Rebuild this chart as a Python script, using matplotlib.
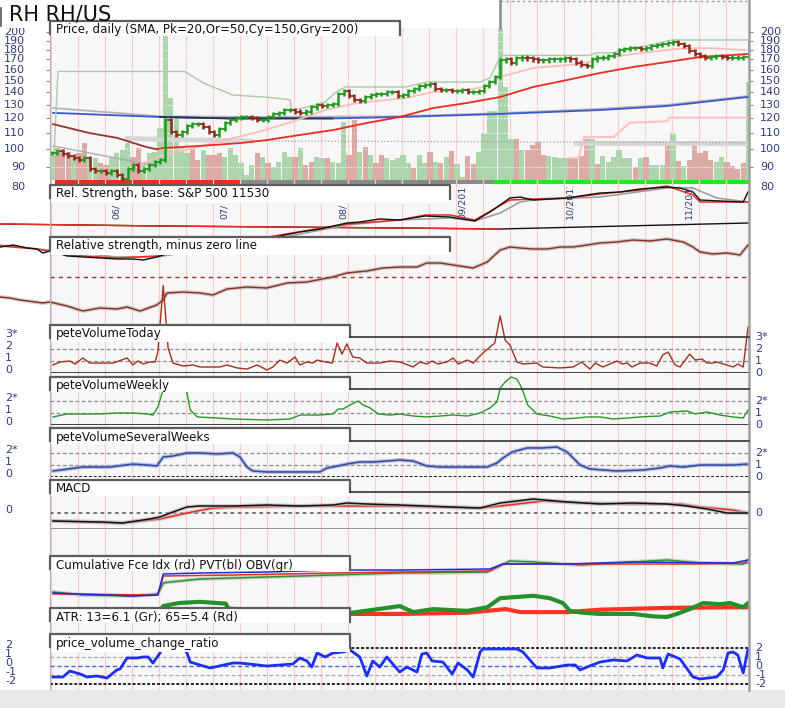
import numpy as np
import matplotlib.pyplot as plt
from matplotlib.patches import Rectangle
from matplotlib.ticker import MultipleLocator, NullLocator, FixedLocator
from matplotlib.transforms import blended_transform_factory, offset_copy, Bbox

# ========== [DATA] ==========
ticker = "RH RH/US"

# daily closes, one per trading day
close = [98, 99, 97, 96, 95, 94, 95, 89, 88, 88,
         87, 88, 86, 84, 89, 91, 88, 89, 91, 93,
         94, 119, 111, 109, 111, 115, 116, 116, 114, 111,
         109, 113, 117, 119, 120, 121, 121, 120, 119, 119,
         121, 123, 124, 126, 126, 125, 124, 125, 128, 130,
         129, 130, 131, 139, 141, 137, 134, 133, 136, 138,
         139, 139, 140, 140, 137, 138, 141, 143, 145, 146,
         147, 143, 142, 142, 141, 141, 142, 140, 140, 141,
         145, 149, 153, 169, 170, 167, 171, 172, 171, 170,
         169, 169, 170, 170, 170, 171, 170, 167, 165, 164,
         170, 172, 172, 174, 176, 180, 181, 182, 182, 181,
         182, 184, 185, 186, 187, 189, 186, 184, 179, 176,
         174, 172, 173, 174, 173, 172, 172, 172, 173, 189]

# daily volume (scaled units)
volume = [25, 32, 31, 28, 23, 27, 37, 22, 22, 17,
          15, 23, 27, 30, 37, 23, 32, 17, 27, 28,
          52, 420, 82, 63, 33, 27, 32, 20, 30, 25,
          25, 27, 23, 32, 25, 17, 5, 15, 27, 23,
          17, 13, 18, 28, 23, 23, 32, 15, 18, 23,
          22, 22, 18, 17, 58, 25, 60, 28, 33, 25,
          17, 25, 22, 20, 22, 25, 17, 12, 25, 17,
          28, 18, 17, 23, 29, 16, 3, 24, 16, 28,
          47, 69, 69, 151, 93, 41, 41, 30, 30, 35,
          38, 25, 24, 23, 22, 22, 22, 23, 24, 41,
          41, 16, 24, 18, 23, 30, 22, 22, 13, 22,
          23, 15, 15, 15, 38, 47, 19, 14, 20, 39,
          27, 29, 20, 18, 23, 18, 14, 11, 17, 98]
# g = up-volume day, r = down-volume day
volume_dir = ("grrrgrrggr" "rggggrrggg" "ggggggrrgr" "rrggggggrg" "rggggrgrrg"
              "grgggrrgrg" "rrgggggrgg" "rgrgrggrrg" "ggggggrgrr" "rrggggrrrr"
              "grggggggrg" "rgggrgrgrr" "rrrggrrrrg")

month_labels = ["06/2011", "07/2011", "08/2011", "09/2011", "10/2011", "11/2011"]
month_days = [12, 32, 54, 76, 96, 118]

trend_spans = [(0.5, 34.8), (34.8, 81.7), (81.7, 129.1)]
trend_state = ["down", "flat", "up"]

price_ticks = [200, 190, 180, 170, 160, 150, 140, 130, 120, 110, 100, 90, 80]

# moving averages / envelopes in price panel: (day, price)
sma20 = [(16, 91), (19.6, 95.5), (32, 105.6), (38.1, 110.7), (44.4, 117.5), (50.6, 126.1),
         (56.7, 131.5), (65.4, 135.4), (70.6, 140.3), (76.9, 142), (79.8, 144.5), (83, 153.3),
         (89.1, 161.7), (97.8, 165.5), (103, 172.5), (109.3, 176.6), (115.4, 180.9),
         (121.5, 181.9), (128.3, 179.8)]
sma50_falling = [(0.2, 116), (7, 110), (12, 107), (17.5, 101.3), (19.4, 100)]
sma50 = [(19.4, 100), (20.6, 100.7), (27.4, 102), (34.8, 103.7), (39.8, 105.6), (45.9, 108.8),
         (52, 112), (58.3, 116.8), (64.4, 121), (70.6, 127.6), (76.9, 131.5), (83, 136.2),
         (89.1, 144.5), (95.4, 150.6), (101.5, 157), (107.6, 162.6), (113.9, 167.5),
         (120, 172.5), (128.9, 175.6)]
sma150 = [(0.2, 124), (20, 121), (33, 120), (52, 120), (64.4, 121), (83, 123.2),
          (101.5, 126.1), (113.9, 129.1), (128.9, 136.2)]
sma200 = [(0.2, 127.6), (20, 121.5), (40, 121), (64, 121.5), (83, 123.8), (101.5, 127),
          (113.9, 130), (128.9, 137)]
upper_env = [(0.4, 99), (1.1, 158.4), (24.6, 158.4), (28, 148), (33.5, 137.8), (39.8, 136),
             (44.1, 134), (44.4, 126), (47.4, 128.4), (50.6, 132.3), (52.4, 139.5),
             (54.3, 144.5), (65.4, 144.5), (69.6, 148.8), (79.3, 148.8), (81.1, 152.4),
             (83, 172.5), (83.5, 174.2), (99.6, 174.2), (100.6, 176.6), (104, 177),
             (106, 181), (110, 184), (114.8, 190.8), (129, 190.8)]
lower_env = [(0.2, 102), (10, 96), (19.4, 90.5)]
floor_band_a = [(13.9, 106.5), (37, 105)]
floor_line = [(37, 105), (129, 104)]
floor_band_b = [(97, 103.6), (129, 103.6)]
trail_stop = [(96, 95), (97.5, 95), (98.5, 107.5), (104, 107.5), (107, 117), (114, 118),
              (114.2, 120.5), (129, 120.5)]

# relative strength vs S&P 500
rs_line = [(-9.6, -0.24), (-7.2, -0.20), (-4.6, -0.26), (-2.8, -0.28), (-1.7, -0.36), (-0.4, -0.32),
           (2.8, -0.42), (8.9, -0.46), (12, -0.48), (15, -0.48), (16.9, -0.50), (19.4, -0.44),
           (20.6, -0.40), (21.1, -0.20), (31.1, -0.16), (38.5, -0.10), (42.2, -0.02), (45.9, 0.06),
           (49.6, 0.12), (54.6, 0.24), (57, 0.26), (60.7, 0.32), (64.4, 0.30), (69.1, 0.38),
           (73.7, 0.36), (78.3, 0.28), (81.1, 0.46), (84.8, 0.74), (86.7, 0.76), (89.1, 0.70),
           (92.2, 0.72), (95.4, 0.74), (97.8, 0.78), (101.5, 0.84), (105.2, 0.86), (108.9, 0.92),
           (113.9, 0.96), (116.3, 0.94), (118.7, 0.86), (120, 0.70), (123.7, 0.68), (128, 0.66),
           (128.9, 0.86)]
rs_red = [(-9.6, -0.22), (-2.8, -0.28), (2.8, -0.40), (12, -0.46), (19.4, -0.42), (42.2, 0.0),
          (54.6, 0.22), (64.4, 0.30), (69.1, 0.40), (73.7, 0.40), (78.3, 0.30), (84.8, 0.70),
          (89.1, 0.72), (95.4, 0.74), (101.5, 0.82), (108.9, 0.90), (113.9, 0.98), (118.7, 0.80),
          (120, 0.66), (128.9, 0.66)]
rs_avg = [(-9.6, -0.20), (12, -0.44), (19.4, -0.44), (42.2, -0.06), (54.6, 0.20), (64.4, 0.30),
          (73.7, 0.34), (78.3, 0.28), (83, 0.44), (86.7, 0.66), (89.1, 0.70), (101.5, 0.76),
          (113.9, 0.94), (118.7, 0.94), (123.1, 0.74), (128.9, 0.66)]
rs_long = [(-9.6, 0.22), (20, 0.18), (64.4, 0.14), (83, 0.12), (129, 0.24)]

rs_minus_zero = [(-9.6, -1.0), (-7.8, -1.05), (-5.9, -1.15), (-1.7, -1.3), (-0.4, -1.25), (2.8, -1.45),
                 (5.7, -1.7), (8.9, -1.55), (12, -1.6), (13.9, -1.5), (16.3, -1.7), (19.4, -1.4),
                 (20.6, -1.15), (21.3, -0.8), (24.3, -0.75), (27.4, -0.8), (29.8, -0.9), (32.4, -0.6),
                 (36.1, -0.5), (39.8, -0.55), (43.5, -0.3), (47.2, -0.25), (49.1, -0.15), (52, 0.0),
                 (54.6, 0.2), (58.3, 0.3), (61.3, 0.45), (64.4, 0.5), (67.6, 0.5), (69.4, 0.7),
                 (71.9, 0.7), (74.3, 0.6), (78, 0.45), (80.6, 0.75), (83, 1.35), (84.8, 1.5),
                 (86.7, 1.45), (89.1, 1.4), (91.7, 1.4), (94.1, 1.5), (96.5, 1.5), (99.1, 1.6),
                 (101.5, 1.7), (104.6, 1.75), (107.6, 1.85), (110.7, 1.8), (113.9, 1.9),
                 (116.9, 1.75), (118.7, 1.5), (120, 1.25), (122.4, 1.15), (125, 1.2), (127.4, 1.1),
                 (128.9, 1.6)]

vol_today = [(0.2, 0.67), (1.5, 0.92), (3.3, 1.0), (4.3, 0.75), (5.7, 1.25), (7, 0.83), (8.9, 0.83),
             (11.3, 0.83), (13.9, 1.25), (15, 0.67), (15.9, 1.0), (16.9, 0.75), (18.1, 0.92),
             (19.1, 0.92), (19.6, 1.75), (20.6, 7.3), (21.5, 2.1), (22.4, 0.83), (24.3, 0.58),
             (26.1, 0.67), (27.4, 0.5), (29.3, 0.5), (31.1, 0.5), (32.4, 0.67), (34.3, 0.42),
             (36.1, 0.33), (38, 0.67), (39.8, 0.25), (40.9, 0.5), (42.2, 1.08), (43.5, 0.83),
             (45, 1.33), (45.9, 0.67), (47.2, 0.92), (48.3, 0.83), (49.1, 1.08), (50.6, 0.92),
             (51.9, 0.83), (52.8, 2.5), (53.7, 1.58), (54.6, 2.42), (55.7, 1.33), (57, 1.25),
             (58.3, 0.83), (60.7, 0.83), (62.6, 1.0), (64.4, 0.92), (66.9, 0.5), (68.1, 0.92),
             (69.4, 0.75), (70.4, 1.0), (71.5, 0.75), (73.1, 0.92), (74.3, 1.25), (75.2, 0.75),
             (76.9, 1.08), (78, 0.83), (79.8, 1.67), (82, 2.5), (83, 4.75), (83.9, 2.75),
             (84.8, 2.33), (86.1, 0.92), (87.2, 0.75), (89.8, 0.83), (90.9, 0.5), (94.1, 0.42),
             (96.5, 0.5), (98.1, 0.92), (99.6, 0.33), (100.6, 0.83), (102, 0.5), (104.6, 1.0),
             (105.6, 0.75), (106.5, 0.83), (107.4, 0.5), (108.9, 0.83), (110.7, 0.83), (112, 0.58),
             (113.1, 1.5), (114.1, 1.75), (115.4, 0.67), (116.3, 0.5), (118.1, 1.58), (119.1, 1.08),
             (120.4, 1.17), (121.3, 0.83), (122.4, 0.83), (123.1, 0.92), (125.6, 0.58), (126.1, 0.5),
             (127, 0.75), (128, 0.5), (128.9, 3.83)]

vol_weekly = [(0.2, 0.67), (2.8, 0.92), (5.7, 0.92), (8.9, 0.92), (12, 1.0), (15, 1.0), (17.6, 0.92),
              (18.7, 0.83), (19.6, 1.5), (20.4, 2.67), (20.9, 3.75), (22.8, 3.9), (24.6, 3.75),
              (25, 2.67), (25.6, 1.25), (26.9, 0.67), (30.6, 0.58), (33.5, 0.5), (39.8, 0.42),
              (44.1, 0.5), (45.9, 0.83), (49.6, 0.83), (52, 0.92), (53, 1.33), (53.9, 1.33),
              (55.2, 1.67), (56.7, 2.0), (57.6, 1.67), (58.9, 1.42), (60.4, 0.92), (62.6, 0.83),
              (64.4, 0.92), (66.9, 0.75), (69.4, 0.67), (71.9, 0.75), (74.3, 0.83), (76.9, 0.75),
              (79.3, 1.0), (81.1, 1.42), (82.4, 1.92), (83, 3.08), (83.9, 3.58), (85, 4.0),
              (86.1, 3.83), (87, 3.08), (88.1, 1.67), (89.8, 0.92), (92.2, 0.75), (94.6, 0.5),
              (97.2, 0.58), (99.1, 0.67), (101.5, 0.67), (103.9, 0.5), (106.5, 0.58), (108.9, 0.67),
              (112.6, 0.75), (114.4, 1.08), (117.6, 1.17), (119.1, 0.92), (121.3, 1.08),
              (123.7, 0.83), (126.1, 0.67), (128, 0.58), (128.9, 1.25)]

vol_several = [(0.2, 0.5), (5.7, 0.83), (10.7, 0.83), (15, 1.08), (17.6, 1.0), (19.4, 0.92),
               (20.6, 1.67), (22.4, 1.75), (25, 2.0), (27.4, 2.0), (30.6, 1.92), (33.5, 2.0),
               (34.8, 1.67), (36.1, 0.83), (37.2, 0.5), (39.8, 0.42), (45.9, 0.42), (49.6, 0.42),
               (50.9, 0.75), (52, 0.83), (54.6, 1.08), (57, 1.25), (59.4, 1.25), (62, 1.33),
               (64.4, 1.42), (66.9, 1.33), (69.4, 0.92), (71.9, 0.83), (76.9, 0.83), (80.6, 0.83),
               (82.4, 1.17), (83.5, 1.58), (85.2, 2.08), (88, 2.42), (90.9, 2.42), (93.5, 2.5),
               (95.4, 2.08), (97.8, 1.0), (99.6, 0.67), (104.6, 0.5), (109.4, 0.58), (112.6, 0.75),
               (114.4, 0.92), (116.9, 0.83), (120, 1.0), (123.1, 1.0), (126.1, 1.0), (128.7, 1.08)]

macd_line = [(0.2, -2.0), (8.9, -2.25), (13.1, -2.5), (18.1, -1.5), (20, -1.0), (22.4, 0.25),
             (25, 1.5), (27.4, 1.75), (33.5, 1.75), (39.8, 2.0), (45.9, 1.75), (52, 2.0),
             (54.6, 2.5), (58.3, 2.25), (64.4, 2.0), (73.7, 1.5), (79.3, 1.25), (83, 2.5),
             (89.1, 3.5), (95.4, 2.75), (101.5, 2.25), (107.6, 2.5), (113.9, 2.25), (117.6, 1.75),
             (121.3, 1.0), (125, 0.0), (128.9, 0.0)]
macd_signal = [(0.2, -2.0), (13.1, -2.5), (20, -1.5), (25, 0.0), (29.8, 1.25), (34.8, 1.5),
               (45.9, 1.75), (64.4, 1.75), (79.3, 1.25), (83, 1.75), (90.9, 3.0), (99.1, 2.5),
               (107.6, 2.25), (116.3, 2.25), (120, 1.5), (126.1, 0.75), (128.9, 0.0)]

obv = [(0.2, 0.8), (5.7, 0.5), (15, 0.4), (19.6, 0.6), (20.6, 1.7), (21.9, 1.8), (27.4, 2.1),
       (33.5, 2.2), (45.9, 2.4), (58.3, 2.6), (64.4, 2.7), (80.6, 2.8), (84.8, 3.9), (89.1, 3.8),
       (97.8, 3.5), (107.6, 3.8), (113.9, 4.0), (120, 3.7), (128, 3.6), (128.9, 4.0)]
pvt = [(0.2, 0.7), (15, 0.4), (19.6, 0.5), (20.6, 2.6), (27.4, 2.7), (39.8, 2.8), (52, 3.0),
       (64.4, 3.0), (81.1, 3.1), (83.5, 3.6), (95.4, 3.6), (107.6, 3.8), (126.1, 3.7), (128.9, 4.0)]
force_idx = [(0.2, 0.6), (19.6, 0.5), (20.6, 2.4), (33.5, 2.5), (52, 2.7), (64.4, 2.8), (81.1, 2.9),
             (83.5, 3.6), (101.5, 3.6), (118.7, 3.6), (128.9, 3.7)]

atr13 = [(0, 4.1), (10, 4.0), (19.6, 4.2), (20.6, 5.6), (23.5, 6.1), (27.4, 6.3), (32.2, 6.0),
         (32.6, 5.2), (40, 4.8), (50, 4.5), (55.2, 4.45), (64.4, 5.6), (66.9, 4.6), (70.6, 5.1),
         (76.9, 4.8), (80.6, 5.4), (83, 6.9), (86.1, 7.1), (89.1, 7.3), (92.2, 6.9), (94.6, 6.1),
         (95.9, 4.8), (98.3, 4.5), (101.5, 4.3), (107.6, 4.3), (111.3, 3.9), (113.9, 3.8),
         (115.7, 4.3), (118.1, 5.1), (120.6, 6.1), (123.7, 5.9), (125.6, 6.1), (128, 5.4),
         (128.9, 6.1)]
atr65 = [(0, 4.0), (55.2, 4.3), (64.4, 4.3), (76.9, 4.5), (84, 5.1), (86.7, 4.6), (95.4, 4.6),
         (101.5, 5.0), (113.9, 5.3), (126.1, 5.4), (128.9, 5.4)]

pv_ratio = [(0.2, -1.22), (2, -1.22), (3.3, -0.56), (5.2, -0.89), (6.5, -1.22), (8.3, -1.11),
            (10.2, -1.33), (12, -0.44), (12.6, -0.33), (13.9, 0.89), (15.7, 0.89), (16.9, 1.0),
            (17.8, 1.0), (18.7, 0.33), (20, 1.44), (20.6, 2.3), (22, 2.3), (24, 2.3), (25, 1.44),
            (25.6, 0.44), (27.4, 0.11), (29.3, -0.22), (33.5, 0.33), (34.8, 0.33), (39.8, 0.0),
            (44.6, 0.22), (45.9, 0.89), (47.2, 0.56), (48.1, -0.11), (49.1, 1.44), (50.6, 1.0),
            (52, 1.44), (53.9, 1.56), (55.2, 1.78), (57, 1.0), (58.3, -1.11), (59.4, 0.56),
            (60.7, -0.11), (62, 1.0), (64.4, -0.67), (65.7, -0.11), (67.6, -0.67), (68.5, 1.33),
            (69.4, 1.44), (70.4, 0.56), (72.4, 0.44), (74.1, -0.89), (75.2, 0.33), (76.9, -0.44),
            (78, -1.22), (79.3, 1.56), (79.8, 1.89), (86.1, 1.89), (87.2, 1.56), (89.8, -0.22),
            (92.2, -0.22), (95.4, 0.11), (96.9, 0.11), (97.8, -0.44), (99.1, -0.11), (101.5, 0.44),
            (103.9, 0.67), (106.5, 0.56), (108.3, 1.22), (110.2, 0.89), (112.6, 0.89),
            (113.1, -0.22), (114.1, 1.33), (116.3, 0.78), (118.7, -1.22), (120, -1.44),
            (123.1, -1.22), (124.3, -0.44), (125.2, 1.44), (126.1, 1.56), (127, 1.22),
            (128, -0.78), (128.9, 1.89)]

# ========== [LAYOUT & STYLE] ==========
W, H = 785, 708
PLOT_L, PLOT_R, PLOT_B = 50, 749, 690
DAY0_PX, PX_PER_DAY = 52, 5.4
XLIM = ((PLOT_L - DAY0_PX) / PX_PER_DAY, (PLOT_R - DAY0_PX) / PX_PER_DAY)
LABEL_C = '#2e3d7a'
BOX_EDGE = '#5c5c5c'
UP_C, DN_C = '#1f9a1f', '#8e2d1e'
TREND_COLORS = {"down": '#f02a1e', "flat": '#8a8a8a', "up": '#19ee19'}
WICK = 0.012
BOX_FS = 8.6

fig = plt.figure(figsize=(W / 100, H / 100), dpi=100)
fig.patch.set_facecolor('white')


def px_axes(x0, y0, x1, y1):
    return fig.add_axes([x0 / W, 1 - y1 / H, (x1 - x0) / W, (y1 - y0) / H])


def xy(pts):
    a = np.array(pts, dtype=float)
    return a[:, 0], a[:, 1]


def panel(top, bot, v_top, v_bot):
    ax = px_axes(PLOT_L, top, PLOT_R, bot)
    ax.set_xlim(XLIM)
    ax.set_ylim(v_bot, v_top)
    ax.axis('off')
    ax.patch.set_visible(False)
    return ax


def line(ax, pts, color, lw=1.0, shadow=None, clip=True, **kw):
    x, y = xy(pts)
    if shadow:
        ax.plot(x, y, color=shadow, lw=lw + 1.8, alpha=0.6, clip_on=clip, solid_capstyle='round')
    ax.plot(x, y, color=color, lw=lw, clip_on=clip, **kw)


# ========== [BACKGROUND] ==========
base = px_axes(PLOT_L, 0, PLOT_R, PLOT_B)
base.set_zorder(-1)
base.set_facecolor('#f7f7f7')
base.set_xlim(XLIM)
base.set_ylim(PLOT_B, 0)
base.xaxis.set_major_locator(NullLocator())
base.xaxis.set_minor_locator(MultipleLocator(5, offset=4.8))
base.yaxis.set_major_locator(NullLocator())
base.tick_params(which='both', length=0, labelbottom=False, labelleft=False)
base.grid(which='minor', axis='x', color='#ffcccc', lw=0.9)
for s in base.spines.values():
    s.set_visible(False)
for (s, e), st in zip(trend_spans, trend_state):
    base.fill_between([s, e], 180, 183.5, color=TREND_COLORS[st], lw=0)

ov = px_axes(0, 0, W, H)
ov.set_zorder(5)
ov.set_xlim(0, W)
ov.set_ylim(H, 0)
ov.axis('off')
ov.patch.set_visible(False)

# ========== [PRICE PANEL] ==========
days = np.arange(len(close))
close_a = np.array(close, dtype=float)

vax = px_axes(PLOT_L, 0, PLOT_R, 180)
vax.set_zorder(0.5)
vax.axis('off')
vax.patch.set_visible(False)
vax.set_xlim(XLIM)
vax.set_ylim(0, 180)
vcols = ['#acd5ac' if d == 'g' else '#dbaaa6' for d in volume_dir]
vax.bar(days, volume, width=0.95, color=vcols, lw=0)

pax = px_axes(PLOT_L, 0, PLOT_R, 183)
pax.set_zorder(1)
pax.patch.set_visible(False)
pax.set_yscale('log')
k = np.log10(200 / 80) / (187 - 32)
pax.set_ylim(200 * 10 ** (-(183 - 32) * k), 200 * 10 ** (32 * k))
pax.set_xlim(XLIM)
for s in pax.spines.values():
    s.set_visible(False)
pax.set_xticks([])
pax.yaxis.set_major_locator(FixedLocator(price_ticks[:-1]))
pax.yaxis.set_minor_locator(NullLocator())
pax.tick_params(axis='y', which='both', length=3, width=0.8, color='#888888',
                left=True, right=True, labelleft=False, labelright=False)
for v in price_ticks:
    pax.axhline(v, color='white', lw=0.8, ls=':', zorder=0)

line(pax, floor_band_a, '#d6d6d6', lw=3.5)
line(pax, floor_band_b, '#d6d6d6', lw=3.5)
line(pax, floor_line, '#a0a0a0', lw=0.9, ls=':')
line(pax, trail_stop, '#ffc4c4', lw=1.6)
line(pax, lower_env, '#a8a8a8', lw=0.9)
line(pax, sma200, '#b4b4b4', lw=1.3)
x150, y150 = xy(sma150)
pax.plot(x150, y150, color='#3a5bd0', lw=1.3)
m = (x150 >= 20) & (x150 <= 52)
pax.plot(x150[m], y150[m], color='#26304f', lw=1.3)
line(pax, upper_env, '#a9c9a9', lw=1.0)
line(pax, sma20, '#ffbcbc', lw=1.3)
line(pax, sma50_falling, '#993333', lw=1.3)
line(pax, sma50, '#ee2a22', lw=1.3)

opens = np.r_[close_a[0], close_a[:-1]]
up = close_a >= opens
ccols = np.where(up, UP_C, DN_C)
lo = np.minimum(opens, close_a) * (1 - WICK)
hi = np.maximum(opens, close_a) * (1 + WICK)
pax.vlines(days, lo, hi, colors=ccols, lw=1.8, zorder=4)
pax.hlines(opens, days - 0.5, days, colors=ccols, lw=1.3, zorder=4)
pax.hlines(close_a, days, days + 0.5, colors=ccols, lw=1.3, zorder=4)

tr_price = blended_transform_factory(ov.transData, pax.transData)
for v in price_ticks:
    pax.text(25, v, str(v), transform=tr_price, ha='right', va='center',
             fontsize=8, color=LABEL_C, clip_on=False)
    pax.text(760, v, str(v), transform=tr_price, ha='left', va='center',
             fontsize=8, color=LABEL_C, clip_on=False)

# ========== [RELATIVE STRENGTH] ==========
rsax = panel(185, 235, 1.0, 0.0)
line(rsax, rs_long, '#111111', lw=1.0, clip=False)
xl, yl = xy(rs_long)
mm = xl <= 83
rsax.plot(xl[mm], yl[mm], color='#ee2a22', lw=1.0, clip_on=False)
line(rsax, rs_avg, '#9a9a9a', lw=1.1, clip=False)
line(rsax, rs_red, '#ee2a22', lw=1.1, clip=False)
line(rsax, rs_line, '#111111', lw=1.0, clip=False)

# month labels: under the label box only the month part shows, elsewhere clipped at panel top
rs_box_right = 450
for lab, d in zip(month_labels, month_days):
    xpx = DAY0_PX + d * PX_PER_DAY
    shown = lab[:3] if xpx < rs_box_right else lab
    t = rsax.text(d, 0.32, shown, rotation=90, ha='center', va='bottom', fontsize=6.8,
                  color=LABEL_C)
    t.set_clip_box(Bbox.from_extents(PLOT_L, H - 235, PLOT_R, H - 187))
    t.set_clip_on(True)

rzax = panel(237, 320, 2.0, -2.15)
rzax.axhline(0, color='#993322', lw=1.0, ls=(0, (3, 3)))
line(rzax, rs_minus_zero, '#8e2a1a', lw=1.0, shadow='#b0b0b0', clip=False)

# ========== [PETE VOLUME PANELS] ==========
tdax = panel(325, 373, 4.0, 0.0)
for v in (1, 2):
    tdax.axhline(v, color='#8c8c8c', lw=0.9, ls=(0, (3, 2)))
tdax.axhline(0, color='#222222', lw=1.2)
line(tdax, vol_today, '#a0321f', lw=1.0, clip=False)

wkax = panel(377, 425, 4.0, 0.0)
for v in (1, 2):
    wkax.axhline(v, color='#8c8c8c', lw=0.9, ls=(0, (3, 2)))
wkax.axhline(0, color='#222222', lw=1.2)
line(wkax, vol_weekly, '#26982a', lw=1.0, clip=False)

swax = panel(429, 477, 4.0, 0.0)
for v in (1, 2):
    swax.axhline(v, color='#8c8c8c', lw=0.9, ls=(0, (3, 2)))
swax.axhline(0, color='#222222', lw=1.4, ls=(0, (1.5, 1)))
line(swax, vol_several, '#34489a', lw=1.1, shadow='#8ea0e0')

# ========== [MACD] ==========
mcax = panel(480, 529, 8.25, -4.0)
mcax.axhline(0, color='#6a6a6a', lw=1.3, ls=(0, (2, 2)))
mcax.axhline(-4, color='#8c8c8c', lw=2.0)
line(mcax, macd_signal, '#ee2a22', lw=1.1, shadow='#b8b8b8')
line(mcax, macd_line, '#111111', lw=1.1, shadow='#b8b8b8')

# ========== [CUMULATIVE / ATR / PV RATIO] ==========
cmax = panel(550, 600, 5.0, 0.0)
line(cmax, obv, '#2a962a', lw=1.1, shadow='#b8b8b8')
line(cmax, force_idx, '#ee2a22', lw=1.1)
line(cmax, pvt, '#1a2ee8', lw=1.1)

atax = panel(590, 640, 8.25, 0.0)
line(atax, atr65, '#ff3322', lw=3.0, solid_capstyle='round')
line(atax, atr13, '#24922a', lw=3.0, solid_capstyle='round')

pvax = panel(645, 687, 2.33, -2.33)
for v in (1, -1):
    pvax.axhline(v, color='#a8a8a8', lw=0.9, ls=(0, (3, 2)))
pvax.axhline(0, color='#4a64cc', lw=1.0, ls=(0, (3, 2)))
pvax.axhline(2, color='#222222', lw=1.4, ls=(0, (1.5, 1)))
pvax.axhline(-2, color='#222222', lw=1.4, ls=(0, (1.5, 1)))
line(pvax, pv_ratio, '#1e2ff0', lw=2.0)

# level labels left / right
level_labels = [
    (tdax, [3, 2, 1, 0], ['3*', '2', '1', '0']),
    (wkax, [2, 1, 0], ['2*', '1', '0']),
    (swax, [2, 1, 0], ['2*', '1', '0']),
    (mcax, [0], ['0']),
    (pvax, [2, 1, 0, -1, -2], ['2', '1', '0', '-1', '-2']),
]
for ax, vals, labs in level_labels:
    tr = blended_transform_factory(ov.transData, ax.transData)
    tr_left = offset_copy(tr, fig=fig, y=3, units='dots')
    for v, lab in zip(vals, labs):
        ax.text(5, v, lab, transform=tr_left, ha='left', va='center', fontsize=8,
                color=LABEL_C, clip_on=False)
        ax.text(755, v, lab, transform=tr, ha='left', va='center', fontsize=8,
                color=LABEL_C, clip_on=False)

# ========== [OVERLAY: TITLE, LABEL BOXES, BORDERS] ==========
ov.add_patch(Rectangle((0, PLOT_B), W, H - PLOT_B, fc='#e8e8e8', ec='none'))
ov.plot([PLOT_L, PLOT_L], [20, PLOT_B], color='#b0b0b0', lw=0.8)
ov.plot([PLOT_R, PLOT_R], [0, PLOT_B], color='#a0a0a0', lw=1.8)
ov.plot([500, PLOT_R], [1, 1], color='#a0a0a0', lw=1.0, ls=(0, (2, 2)))

ov.add_patch(Rectangle((0, 0), 500, 28, fc='white', ec='none'))
ov.plot([500, 500], [0, 28], color='#8a8a8a', lw=1.8)
ov.plot([1, 1], [8, 26], color='#555555', lw=1.2)
ov.text(9, 20.5, ticker, fontsize=15, va='baseline', ha='left', color='#111111')

boxes = [
    ('Price, daily (SMA, Pk=20,Or=50,Cy=150,Gry=200)', 400, 21, 36, None),
    ('Rel. Strength, base: S&P 500 11530', 450, 185, 203, None),
    ('Relative strength, minus zero line', 450, 237, 255, None),
    ('peteVolumeToday', 350, 325, 342, 337),
    ('peteVolumeWeekly', 350, 377, 392, 389),
    ('peteVolumeSeveralWeeks', 350, 428, 444, 441),
    ('MACD', 350, 480, 496, 492),
    ('Cumulative Fce Idx (rd) PVT(bl) OBV(gr)', 350, 556, 571, None),
    ('ATR: 13=6.1 (Gr); 65=5.4 (Rd)', 350, 608, 623, None),
    ('price_volume_change_ratio', 350, 634, 652, None),
]
for text, right, top, bot, cont in boxes:
    ov.add_patch(Rectangle((PLOT_L, top), right - PLOT_L, bot - top, fc='white', ec='none'))
    edge_bot = cont if cont else top + 14
    ov.plot([PLOT_L, PLOT_L, right, right], [top + 13, top, top, edge_bot],
            color=BOX_EDGE, lw=1.6, solid_joinstyle='round')
    if cont:
        ov.plot([right, PLOT_R], [cont, cont], color='#333333', lw=1.2)
    ov.text(PLOT_L + 6, top + 9, text, fontsize=BOX_FS, ha='left', va='center', color='#111111')

plt.savefig('out.png', dpi=100)
